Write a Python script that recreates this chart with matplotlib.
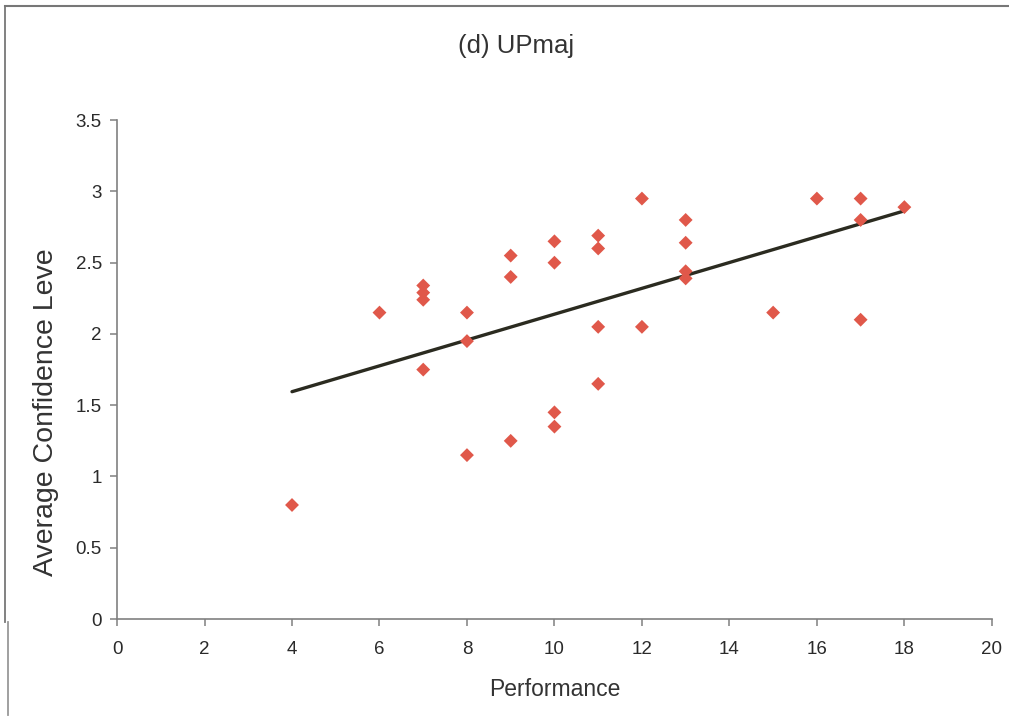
import numpy as np
import matplotlib
matplotlib.use('Agg')
import matplotlib.pyplot as plt
from matplotlib.lines import Line2D

plt.rcParams['font.family'] = ['Liberation Sans', 'DejaVu Sans']

# performance scores and average confidence levels
performance = [4, 6, 7, 7, 7, 7, 8, 8, 8, 9, 9, 9, 10, 10, 10, 10,
               11, 11, 11, 11, 12, 12, 13, 13, 13, 13, 15, 16, 17, 17, 17, 18]
confidence = [0.8, 2.15, 2.34, 2.29, 2.24, 1.75, 2.15, 1.95, 1.15, 2.55, 2.4, 1.25,
              2.65, 2.5, 1.45, 1.35, 2.69, 2.6, 2.05, 1.65, 2.95, 2.05,
              2.8, 2.64, 2.44, 2.39, 2.15, 2.95, 2.95, 2.8, 2.1, 2.89]

x_ticks = list(range(0, 21, 2))
y_ticks = [0, 0.5, 1, 1.5, 2, 2.5, 3, 3.5]

fig = plt.figure(figsize=(10.09, 7.24), dpi=100)
ax = fig.add_axes([0.116, 0.145, 0.867, 0.689])

ax.scatter(performance, confidence, marker='D', s=50, color='#e0584a',
           edgecolors='none', zorder=3)

# linear trend line over the data range
slope, intercept = np.polyfit(performance, confidence, 1)
xs = np.array([min(performance), max(performance)])
ax.plot(xs, slope * xs + intercept, color='#2b2b20', lw=2.4, zorder=2,
        solid_capstyle='round')

ax.set_xlim(0, 20)
ax.set_ylim(0, 3.5)
ax.set_xticks(x_ticks)
ax.set_yticks(y_ticks)
ax.set_yticklabels(['0', '0.5', '1', '1.5', '2', '2.5', '3', '3.5'])

for s in ['top', 'right']:
    ax.spines[s].set_visible(False)
for s in ['left', 'bottom']:
    ax.spines[s].set_color('#808080')
    ax.spines[s].set_linewidth(1.2)
ax.tick_params(axis='both', colors='#808080', labelcolor='#2a2a2a',
               labelsize=13.5, length=5, width=1.1)
ax.tick_params(axis='x', pad=11)
ax.tick_params(axis='y', pad=6)

ax.set_xlabel('Performance', fontsize=16.5, color='#333333', labelpad=14)
ax.set_ylabel('Average Confidence Leve', fontsize=20.5, color='#333333')
ax.yaxis.set_label_coords(-0.066, 0.415)
fig.text(0.511, 0.936, '(d) UPmaj', ha='center', va='center', fontsize=18.5,
         color='#333333')

# scanned frame around the chart
fig.add_artist(Line2D([0.005, 1.0], [0.992, 0.992], color='#777777', lw=1.5))
fig.add_artist(Line2D([0.005, 0.005], [0.992, 0.141], color='#777777', lw=1.3))
fig.add_artist(Line2D([0.008, 0.008], [0.141, 0.012], color='#999999', lw=1.3))

fig.savefig('out.png', dpi=100)
